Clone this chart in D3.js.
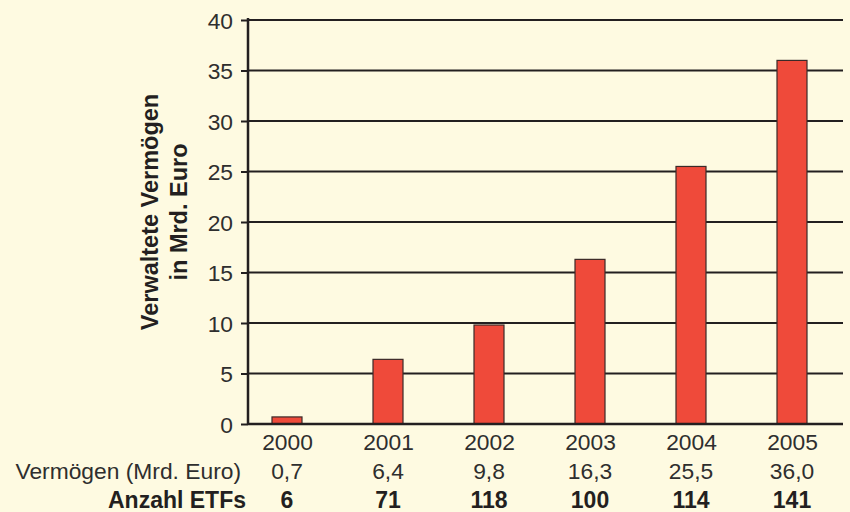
<!DOCTYPE html>
<html>
<head>
<meta charset="utf-8">
<script src="https://cdn.jsdelivr.net/npm/d3@7"></script>
<style>
  html, body { margin: 0; padding: 0; background: #fefae1; }
  svg { display: block; }
  text { font-family: "Liberation Sans", Arial, sans-serif; }
</style>
</head>
<body>
<svg id="chart" width="850" height="512"></svg>
<script>
// ETF-Markt: verwaltete Vermögen und Anzahl der Fonds je Jahr
const years = ["2000", "2001", "2002", "2003", "2004", "2005"];
const assets = [0.7, 6.4, 9.8, 16.3, 25.5, 36.0];
const assetLabels = ["0,7", "6,4", "9,8", "16,3", "25,5", "36,0"];
const etfCounts = [6, 71, 118, 100, 114, 141];
const yTicks = [0, 5, 10, 15, 20, 25, 30, 35, 40];

const svg = d3.select("#chart");
const W = 850, H = 512;
svg.append("rect").attr("width", W).attr("height", H).attr("fill", "#fefae1");

const plotLeft = 248, plotRight = 843, plotTop = 20, plotBottom = 424;
const ink = "#231f20";
const grey = "#2e2e2e";
const fs = 22.8;

const x = d3.scalePoint().domain(years).range([287, 792]);
const y = d3.scaleLinear().domain([0, 40]).range([plotBottom, plotTop]);
const barW = 30;

// gridlines
svg.append("g").selectAll("line").data(yTicks.filter(d => d > 0)).join("line")
  .attr("x1", plotLeft).attr("x2", plotRight)
  .attr("y1", d => y(d)).attr("y2", d => y(d))
  .attr("stroke", ink).attr("stroke-width", 2);

// bars
svg.append("g").selectAll("rect").data(years).join("rect")
  .attr("x", d => x(d) - barW / 2)
  .attr("width", barW)
  .attr("y", (d, i) => y(assets[i]))
  .attr("height", (d, i) => y(0) - y(assets[i]))
  .attr("fill", "#ef4a3a")
  .attr("stroke", "#3a2a28")
  .attr("stroke-width", 1.2);

// y axis
const yAxis = d3.axisLeft(y).tickValues(yTicks).tickSize(7).tickPadding(8).tickFormat(d3.format("d"));
const gy = svg.append("g").attr("transform", `translate(${plotLeft},0)`).call(yAxis);
gy.select(".domain").remove();
gy.selectAll(".tick line").attr("stroke", ink).attr("stroke-width", 2);
gy.selectAll(".tick text")
  .attr("fill", grey).attr("font-size", fs)
  .attr("font-family", "'Liberation Sans', Arial, sans-serif")
  .attr("dy", "0.36em");
svg.append("line").attr("x1", plotLeft).attr("x2", plotLeft).attr("y1", plotTop - 2).attr("y2", plotBottom + 1)
  .attr("stroke", ink).attr("stroke-width", 2.5);
// baseline
svg.append("line").attr("x1", plotLeft).attr("x2", plotRight).attr("y1", plotBottom).attr("y2", plotBottom)
  .attr("stroke", ink).attr("stroke-width", 2.5);

// x axis labels (years)
const xAxis = d3.axisBottom(x).tickSize(0).tickPadding(10);
const gx = svg.append("g").attr("transform", `translate(0,${plotBottom})`).call(xAxis);
gx.select(".domain").remove();
gx.selectAll(".tick text")
  .attr("fill", grey).attr("font-size", fs)
  .attr("font-family", "'Liberation Sans', Arial, sans-serif")
  .attr("dy", "0.71em");

// table rows
svg.append("g").selectAll("text").data(assetLabels).join("text")
  .attr("x", (d, i) => x(years[i])).attr("y", 479)
  .attr("text-anchor", "middle").attr("font-size", fs).attr("fill", grey)
  .text(d => d);
svg.append("text").attr("x", 241).attr("y", 479).attr("text-anchor", "end")
  .attr("font-size", fs).attr("fill", grey).text("Vermögen (Mrd. Euro)");

svg.append("g").selectAll("text").data(etfCounts).join("text")
  .attr("x", (d, i) => x(years[i])).attr("y", 508)
  .attr("text-anchor", "middle").attr("font-size", 23).attr("font-weight", "bold").attr("fill", ink)
  .text(d => d);
svg.append("text").attr("x", 246).attr("y", 508).attr("text-anchor", "end")
  .attr("font-size", 23).attr("font-weight", "bold").attr("fill", ink).text("Anzahl ETFs");

// y axis title
const title = svg.append("text")
  .attr("transform", "translate(166,212) rotate(-90)")
  .attr("text-anchor", "middle").attr("font-size", 23.5).attr("font-weight", "bold").attr("fill", ink);
title.append("tspan").attr("x", 0).attr("y", -8).text("Verwaltete Vermögen");
title.append("tspan").attr("x", 0).attr("y", 21).text("in Mrd. Euro");
</script>
</body>
</html>
